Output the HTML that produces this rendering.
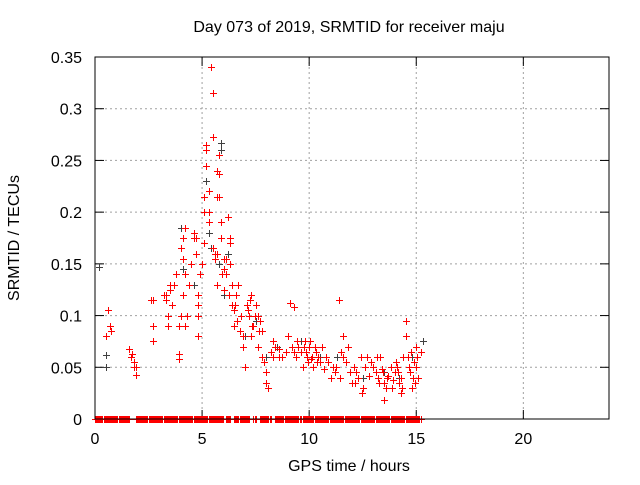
<!DOCTYPE html>
<html><head><meta charset="utf-8"><style>
body{margin:0;background:#fff}
svg text{font-family:"Liberation Sans",sans-serif;font-size:16px;fill:#000}
</style></head><body>
<svg id="chart" width="640" height="480" xmlns="http://www.w3.org/2000/svg">
<text x="349" y="32" text-anchor="middle">Day 073 of 2019, SRMTID for receiver maju</text>
<text x="349" y="471" text-anchor="middle">GPS time / hours</text>
<text transform="translate(19,238) rotate(-90)" text-anchor="middle">SRMTID / TECUs</text>
<g id="grid"></g>
<g id="ticks"></g>
<g id="gray"></g>
<g id="red"></g>
<rect x="95" y="57" width="514" height="362" fill="none" stroke="#000" stroke-width="1"/>
</svg>
<script>
const xTicks=[0,5,10,15,20];
const yTicks=[0,0.05,0.1,0.15,0.2,0.25,0.3,0.35];
const yTickLabels=["0","0.05","0.1","0.15","0.2","0.25","0.3","0.35"];
const grayHours=[0.2,0.5,0.5,4.0,4.1,4.2,4.6,5.2,5.3,5.4,5.9,5.9,5.8,6.0,6.2,6.8,7.5,8.5,9.6,10.5,11.3,12.5,13.5,14.2,15.3,14.8,8.0,7.0];
const grayValues=[0.147,0.062,0.05,0.185,0.145,0.09,0.13,0.23,0.18,0.165,0.267,0.26,0.15,0.12,0.16,0.1,0.095,0.07,0.075,0.06,0.06,0.04,0.045,0.04,0.075,0.06,0.06,0.08];
const redHours=[0.5,0.6,0.7,0.75,1.6,1.7,1.8,1.8,1.9,1.9,1.75,2.6,2.7,2.7,2.7,3.2,3.3,3.3,3.4,3.4,3.5,3.5,3.6,3.7,3.8,3.9,3.9,3.9,4.0,4.1,4.0,4.1,4.2,4.1,4.2,4.3,4.2,4.4,4.5,4.6,4.6,4.7,4.7,4.8,4.8,4.8,4.8,4.9,5.0,5.1,5.1,5.1,5.2,5.2,5.2,5.3,5.3,5.3,5.4,5.5,5.5,5.5,5.6,5.6,5.7,5.7,5.7,5.7,5.8,5.8,5.8,5.9,5.9,6.0,6.0,6.0,6.1,6.1,6.2,6.3,6.3,6.3,6.4,6.4,6.5,6.5,6.6,6.7,6.8,6.9,6.9,7.0,7.1,7.2,7.3,7.3,7.4,7.5,7.6,7.6,7.7,7.8,7.8,7.9,8.0,8.0,8.1,8.2,8.3,8.3,8.4,8.6,8.6,9.1,9.3,9.0,9.2,9.3,9.4,9.5,9.6,9.7,9.8,9.9,10.0,10.1,10.2,10.3,10.4,10.5,10.6,10.7,10.8,11.0,11.1,11.2,11.4,11.5,11.6,11.6,11.8,12.0,12.1,12.2,12.3,12.4,12.5,12.6,12.7,12.8,12.9,13.0,13.1,13.2,13.3,13.4,13.5,13.6,13.7,13.8,13.9,14.0,14.1,14.2,14.3,14.4,14.5,14.5,14.6,14.7,14.8,14.9,15.0,15.1,15.2,15.0,14.3,13.5,
7.15,7.35,7.45,7.65,7.25,9.75,9.85,9.95,10.05,10.15,10.25,10.35,11.25,11.45,11.7,11.9,12.15,12.45,13.15,13.25,13.45,13.65,13.85,14.05,14.15,14.35,14.65,14.75,14.85,14.95,15.05,8.75,8.9,9.45,10.9,6.55,6.65,6.75,5.95,6.25];
const redValues=[0.08,0.105,0.09,0.085,0.068,0.06,0.055,0.05,0.05,0.043,0.063,0.115,0.115,0.09,0.075,0.12,0.115,0.12,0.1,0.09,0.13,0.125,0.11,0.13,0.14,0.063,0.058,0.09,0.1,0.12,0.165,0.175,0.185,0.155,0.14,0.1,0.09,0.13,0.15,0.175,0.18,0.16,0.175,0.12,0.11,0.08,0.1,0.14,0.15,0.17,0.2,0.215,0.26,0.265,0.245,0.19,0.2,0.22,0.34,0.315,0.273,0.165,0.16,0.155,0.13,0.16,0.215,0.24,0.237,0.255,0.215,0.19,0.175,0.155,0.145,0.125,0.14,0.155,0.195,0.175,0.17,0.15,0.13,0.11,0.105,0.09,0.12,0.13,0.1,0.08,0.07,0.05,0.11,0.1,0.12,0.08,0.09,0.11,0.1,0.07,0.095,0.085,0.06,0.055,0.045,0.035,0.03,0.065,0.06,0.075,0.07,0.068,0.06,0.112,0.108,0.08,0.07,0.065,0.06,0.07,0.065,0.05,0.075,0.06,0.07,0.058,0.05,0.065,0.06,0.055,0.07,0.048,0.06,0.04,0.05,0.045,0.115,0.065,0.08,0.06,0.07,0.035,0.05,0.045,0.04,0.06,0.03,0.05,0.06,0.042,0.055,0.05,0.045,0.04,0.06,0.048,0.035,0.03,0.042,0.05,0.038,0.045,0.05,0.035,0.04,0.06,0.095,0.08,0.06,0.045,0.03,0.055,0.05,0.04,0.065,0.07,0.025,0.018,
0.105,0.09,0.1,0.085,0.115,0.07,0.065,0.055,0.075,0.06,0.07,0.055,0.05,0.04,0.055,0.045,0.035,0.025,0.06,0.035,0.045,0.04,0.03,0.055,0.045,0.03,0.05,0.065,0.04,0.035,0.06,0.06,0.065,0.075,0.055,0.11,0.095,0.085,0.14,0.12];
const zeroSegments=[[0,1.6],[1.9,6.0],[6.1,6.3],[6.5,7.2],[7.4,7.5],[7.7,8.2],[8.4,9.6],[9.7,15.2]];
const X=h=>95+h*514/24, Y=v=>419-v*362/0.35;
const NS="http://www.w3.org/2000/svg";
function mk(t,a,p){const e=document.createElementNS(NS,t);for(const k in a)e.setAttribute(k,a[k]);p.appendChild(e);return e;}
const grid=document.getElementById('grid'),ticks=document.getElementById('ticks');
xTicks.forEach(t=>{const x=X(t);
 if(t>0){const g=mk('line',{x1:x,x2:x,y1:57,y2:419,stroke:'#a0a0a0','stroke-dasharray':'2,3'},grid);
 
 }
 mk('line',{x1:x,x2:x,y1:419,y2:410,stroke:'#000'},ticks);mk('line',{x1:x,x2:x,y1:57,y2:66,stroke:'#000'},ticks);
 const l=mk('text',{x:x,y:444,'text-anchor':'middle'},ticks);l.textContent=t;
 
 });
yTicks.forEach((t,i)=>{const y=Y(t);
 if(t>0&&t<0.35){const g=mk('line',{x1:95,x2:609,y1:y,y2:y,stroke:'#a0a0a0','stroke-dasharray':'2,3'},grid);
 
 }
 mk('line',{x1:95,x2:104,y1:y,y2:y,stroke:'#000'},ticks);mk('line',{x1:600,x2:609,y1:y,y2:y,stroke:'#000'},ticks);
 const l=mk('text',{x:82,y:y+6,'text-anchor':'end'},ticks);l.textContent=yTickLabels[i];
 
 });
function cross(h,v,col,g){const x=Math.round(X(h))+0.5,y=Math.round(Y(v))+0.5;
 const p=mk('path',{d:`M${x-3.5},${y}H${x+3.5}M${x},${y-3.5}V${y+3.5}`,stroke:col,'stroke-width':1,fill:'none'},g);
 
 }
const gg=document.getElementById('gray'),rg=document.getElementById('red');
grayHours.forEach((h,i)=>cross(h,grayValues[i],'#404040',gg));
zeroSegments.forEach(s=>{for(let h=s[0];h<=s[1]+1e-9;h+=0.05)cross(h,0,'#ff0000',rg);});
redHours.forEach((h,i)=>cross(h,redValues[i],'#ff0000',rg));
</script>
</body></html>
